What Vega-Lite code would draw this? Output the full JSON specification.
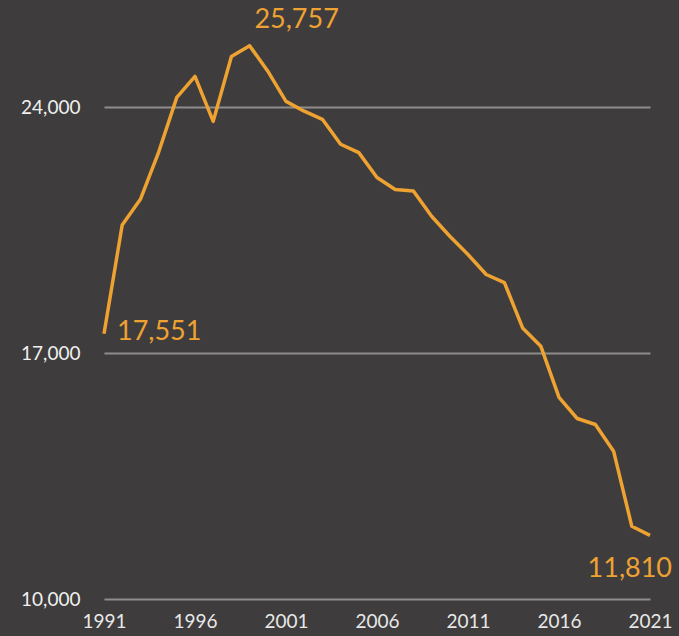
{
  "$schema": "https://vega.github.io/schema/vega-lite/v6.json",
  "width": 546,
  "height": 597,
  "autosize": "none",
  "padding": {"left": 104, "top": 2, "right": 29, "bottom": 37},
  "background": "#3e3c3c",
  "config": {
    "view": {"stroke": null},
    "font": "Lato"
  },
  "data": {
    "values": [
      {"year": 1991, "value": 17551},
      {"year": 1992, "value": 20650},
      {"year": 1993, "value": 21380},
      {"year": 1994, "value": 22720},
      {"year": 1995, "value": 24285},
      {"year": 1996, "value": 24880},
      {"year": 1997, "value": 23600},
      {"year": 1998, "value": 25450},
      {"year": 1999, "value": 25757},
      {"year": 2000, "value": 25030},
      {"year": 2001, "value": 24170},
      {"year": 2002, "value": 23890},
      {"year": 2003, "value": 23660},
      {"year": 2004, "value": 22950},
      {"year": 2005, "value": 22710},
      {"year": 2006, "value": 22000},
      {"year": 2007, "value": 21660},
      {"year": 2008, "value": 21620},
      {"year": 2009, "value": 20900},
      {"year": 2010, "value": 20330},
      {"year": 2011, "value": 19810},
      {"year": 2012, "value": 19240},
      {"year": 2013, "value": 19010},
      {"year": 2014, "value": 17720},
      {"year": 2015, "value": 17200},
      {"year": 2016, "value": 15740},
      {"year": 2017, "value": 15140},
      {"year": 2018, "value": 14970},
      {"year": 2019, "value": 14210},
      {"year": 2020, "value": 12070},
      {"year": 2021, "value": 11810}
    ]
  },
  "encoding": {
    "x": {
      "field": "year",
      "type": "quantitative",
      "scale": {"domain": [1991, 2021], "nice": false, "zero": false},
      "axis": {
        "title": null,
        "values": [1991, 1996, 2001, 2006, 2011, 2016, 2021],
        "format": "d",
        "grid": false,
        "domain": false,
        "ticks": false,
        "labelFlush": false,
        "labelPadding": 13,
        "labelFontSize": 19,
        "labelColor": "#e8e8e8"
      }
    },
    "y": {
      "field": "value",
      "type": "quantitative",
      "scale": {"domain": [10000, 27000], "nice": false, "zero": false},
      "axis": {
        "title": null,
        "values": [10000, 17000, 24000],
        "format": ",.0f",
        "grid": true,
        "gridColor": "#8e8c8c",
        "gridWidth": 2,
        "domain": false,
        "ticks": false,
        "labelPadding": 24,
        "labelFontSize": 19,
        "labelColor": "#f0f0f0"
      }
    }
  },
  "layer": [
    {
      "mark": {"type": "line", "color": "#eea232", "strokeWidth": 3.5, "strokeJoin": "round"}
    },
    {
      "transform": [{"filter": "datum.year === 1999"}],
      "mark": {"type": "text", "color": "#eea232", "fontSize": 27, "align": "center", "dx": 47, "dy": -26},
      "encoding": {"text": {"field": "value", "type": "quantitative", "format": ","}}
    },
    {
      "transform": [{"filter": "datum.year === 1991"}],
      "mark": {"type": "text", "color": "#eea232", "fontSize": 27, "align": "left", "dx": 13, "dy": -2},
      "encoding": {"text": {"field": "value", "type": "quantitative", "format": ","}}
    },
    {
      "transform": [{"filter": "datum.year === 2021"}],
      "mark": {"type": "text", "color": "#eea232", "fontSize": 27, "align": "right", "dx": 22, "dy": 34},
      "encoding": {"text": {"field": "value", "type": "quantitative", "format": ","}}
    }
  ]
}
